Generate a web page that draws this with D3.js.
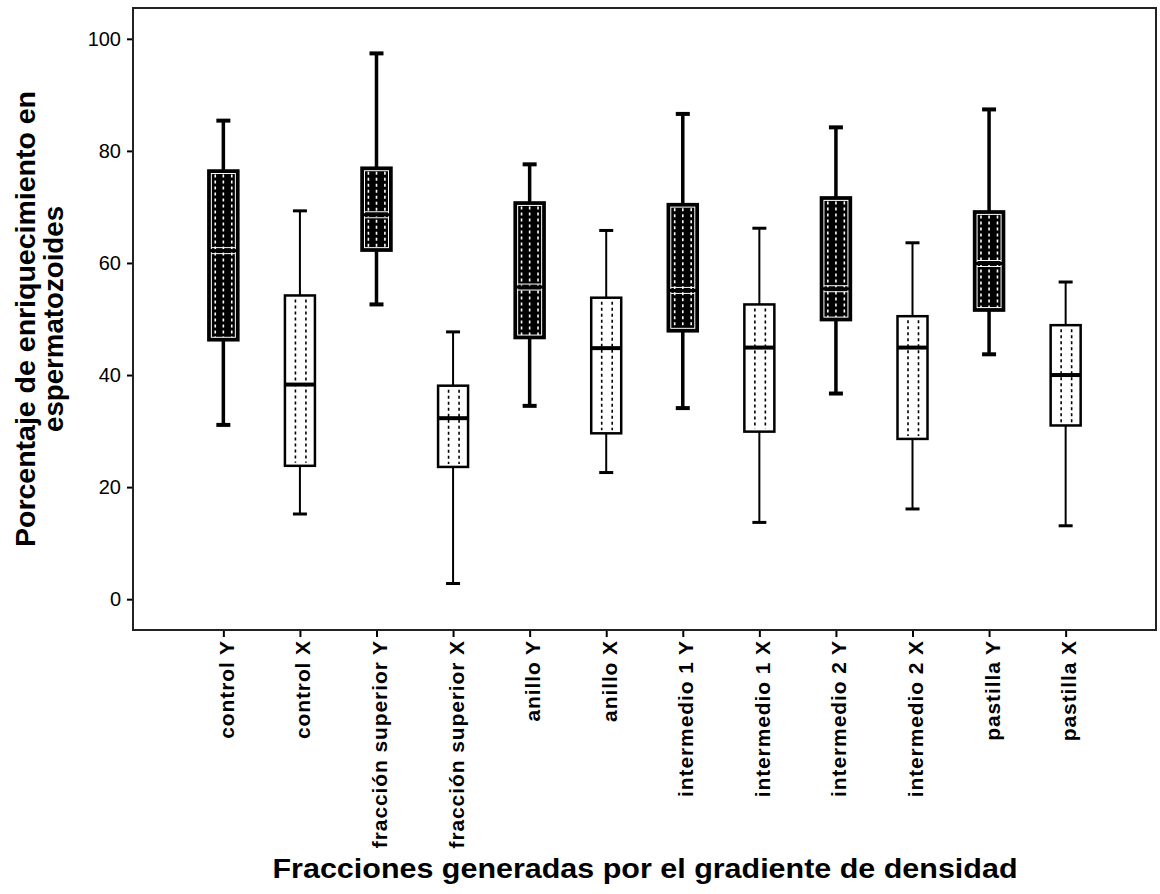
<html>
  <head>
    <meta charset="utf-8">
    <title>Fracciones generadas por el gradiente de densidad</title>
    <style>
      body { margin: 0; background: #fff; }
      text { font-family: 'Liberation Sans', Arial, sans-serif; fill: #000; }
    </style>
  </head>
  <body>
    <script src="https://d3js.org/d3.v7.min.js"></script>
    <script>
      // Data
      var categories = ['control Y', 'control X', 'fracción superior Y', 'fracción superior X',
        'anillo Y', 'anillo X', 'intermedio 1 Y', 'intermedio 1 X',
        'intermedio 2 Y', 'intermedio 2 X', 'pastilla Y', 'pastilla X'];
      var whiskerLow = [31.1, 15.2, 52.6, 2.8, 34.5, 22.6, 34.1, 13.7, 36.7, 16.1, 43.7, 13.1];
      var q1 = [46.2, 23.8, 62.2, 23.6, 46.6, 29.6, 47.8, 29.9, 49.8, 28.6, 51.5, 31.0];
      var medians = [62.2, 38.3, 68.6, 32.3, 55.7, 44.8, 55.1, 44.9, 55.4, 44.9, 59.9, 40.0];
      var q3 = [76.5, 54.2, 77.0, 38.1, 70.8, 53.8, 70.5, 52.6, 71.7, 50.5, 69.2, 48.9];
      var whiskerHigh = [85.4, 69.3, 97.4, 47.7, 77.6, 65.8, 86.6, 66.2, 84.2, 63.6, 87.4, 56.6];
      var yTicks = [0, 20, 40, 60, 80, 100];

      (function() {
        var WIDTH = 1160, HEIGHT = 894;
        var PLOT = { left: 133, right: 1156, top: 8, bottom: 630 };
        var BOX_WIDTH = 30;
        var CAP_WIDTH = 14;

        var svg = d3.select('body').append('svg')
          .attr('width', WIDTH)
          .attr('height', HEIGHT);

        var x = d3.scalePoint()
          .domain(categories)
          .range([PLOT.left, PLOT.right])
          .padding(1.18);

        var y = d3.scaleLinear()
          .domain([-5.5, 105.5])
          .range([PLOT.bottom, PLOT.top]);

        var boxes = categories.map(function(c, i) {
          return {
            name: c,
            isY: /Y$/.test(c),
            lo: whiskerLow[i], q1: q1[i], med: medians[i], q3: q3[i], hi: whiskerHigh[i]
          };
        });

        // Y axis
        var yAxis = svg.append('g')
          .attr('transform', 'translate(' + PLOT.left + ',0)')
          .call(d3.axisLeft(y).tickValues(yTicks).tickSize(6).tickPadding(6));
        yAxis.select('.domain').remove();
        yAxis.selectAll('line').attr('stroke', '#000').attr('stroke-width', 2);
        yAxis.selectAll('text').attr('font-size', '20px').attr('fill', '#000');

        // X axis
        var xAxis = svg.append('g')
          .attr('transform', 'translate(0,' + PLOT.bottom + ')')
          .call(d3.axisBottom(x).tickSize(7));
        xAxis.select('.domain').remove();
        xAxis.selectAll('line').attr('stroke', '#000').attr('stroke-width', 2);
        xAxis.selectAll('text')
          .attr('font-size', '21px')
          .attr('font-weight', 'bold')
          .attr('letter-spacing', '0.9px')
          .attr('fill', '#000')
          .attr('text-anchor', 'end')
          .attr('transform', 'rotate(-90)')
          .attr('x', -10)
          .attr('y', 10)
          .attr('dy', 0);

        // Plot frame
        svg.append('rect')
          .attr('x', PLOT.left)
          .attr('y', PLOT.top)
          .attr('width', PLOT.right - PLOT.left)
          .attr('height', PLOT.bottom - PLOT.top)
          .attr('fill', 'none')
          .attr('stroke', '#222')
          .attr('stroke-width', 2);

        var g = svg.selectAll('g.box')
          .data(boxes)
          .enter().append('g')
          .attr('class', 'box')
          .attr('transform', function(d) { return 'translate(' + x(d.name) + ',0)'; });

        // Whiskers
        g.append('line')
          .attr('y1', function(d) { return y(d.lo); })
          .attr('y2', function(d) { return y(d.hi); })
          .attr('stroke', '#000')
          .attr('stroke-width', function(d) { return d.isY ? 3.5 : 2; });

        g.selectAll('line.cap')
          .data(function(d) { return [{ v: d.lo, isY: d.isY }, { v: d.hi, isY: d.isY }]; })
          .enter().append('line')
          .attr('class', 'cap')
          .attr('x1', -CAP_WIDTH / 2)
          .attr('x2', CAP_WIDTH / 2)
          .attr('y1', function(d) { return y(d.v); })
          .attr('y2', function(d) { return y(d.v); })
          .attr('stroke', '#000')
          .attr('stroke-width', function(d) { return d.isY ? 4 : 3; });

        // Box body
        g.append('rect')
          .attr('x', -BOX_WIDTH / 2)
          .attr('width', BOX_WIDTH)
          .attr('y', function(d) { return y(d.q3); })
          .attr('height', function(d) { return y(d.q1) - y(d.q3); })
          .attr('fill', function(d) { return d.isY ? '#000' : '#fff'; })
          .attr('stroke', '#000')
          .attr('stroke-width', 2.5);

        // Inner white outline for the Y boxes
        g.filter(function(d) { return d.isY; }).append('rect')
          .attr('x', -BOX_WIDTH / 2 + 3)
          .attr('width', BOX_WIDTH - 6)
          .attr('y', function(d) { return y(d.q3) + 3; })
          .attr('height', function(d) { return y(d.q1) - y(d.q3) - 6; })
          .attr('fill', 'none')
          .attr('stroke', '#fff')
          .attr('stroke-width', 1);

        // Dotted fill lines
        g.selectAll('line.dots')
          .data(function(d) {
            var fr = d.isY ? [0.23, 0.5, 0.78] : [0.35, 0.7];
            return fr.map(function(f) { return { f: f, d: d }; });
          })
          .enter().append('line')
          .attr('class', 'dots')
          .attr('x1', function(p) { return -BOX_WIDTH / 2 + p.f * BOX_WIDTH; })
          .attr('x2', function(p) { return -BOX_WIDTH / 2 + p.f * BOX_WIDTH; })
          .attr('y1', function(p) { return y(p.d.q3) + 4; })
          .attr('y2', function(p) { return y(p.d.q1) - 3; })
          .attr('stroke', function(p) { return p.d.isY ? '#fff' : '#000'; })
          .attr('stroke-width', 1.6)
          .attr('stroke-dasharray', '3,3');

        // Medians
        g.filter(function(d) { return d.isY; }).selectAll('line.medw')
          .data(function(d) { return [y(d.med) - 3, y(d.med) + 3]; })
          .enter().append('line')
          .attr('class', 'medw')
          .attr('x1', -BOX_WIDTH / 2 + 3)
          .attr('x2', BOX_WIDTH / 2 - 3)
          .attr('y1', function(v) { return v; })
          .attr('y2', function(v) { return v; })
          .attr('stroke', '#fff')
          .attr('stroke-width', 1);

        g.append('line')
          .attr('x1', -BOX_WIDTH / 2)
          .attr('x2', BOX_WIDTH / 2)
          .attr('y1', function(d) { return y(d.med); })
          .attr('y2', function(d) { return y(d.med); })
          .attr('stroke', '#000')
          .attr('stroke-width', function(d) { return d.isY ? 3 : 4; });

        // Axis titles
        var yTitle = svg.append('text')
          .attr('transform', 'translate(35,319) rotate(-90)')
          .attr('text-anchor', 'middle')
          .attr('font-size', '27px')
          .attr('font-weight', 'bold');
        yTitle.append('tspan').attr('x', 0).attr('y', 0)
          .attr('textLength', 456).attr('lengthAdjust', 'spacingAndGlyphs')
          .text('Porcentaje de enriquecimiento en');
        yTitle.append('tspan').attr('x', 0).attr('y', 28)
          .attr('textLength', 226).attr('lengthAdjust', 'spacingAndGlyphs')
          .text('espermatozoides');

        svg.append('text')
          .attr('x', 645)
          .attr('y', 878)
          .attr('text-anchor', 'middle')
          .attr('font-size', '27px')
          .attr('font-weight', 'bold')
          .attr('textLength', 745)
          .attr('lengthAdjust', 'spacingAndGlyphs')
          .text('Fracciones generadas por el gradiente de densidad');
      })();
    </script>
  </body>
</html>
